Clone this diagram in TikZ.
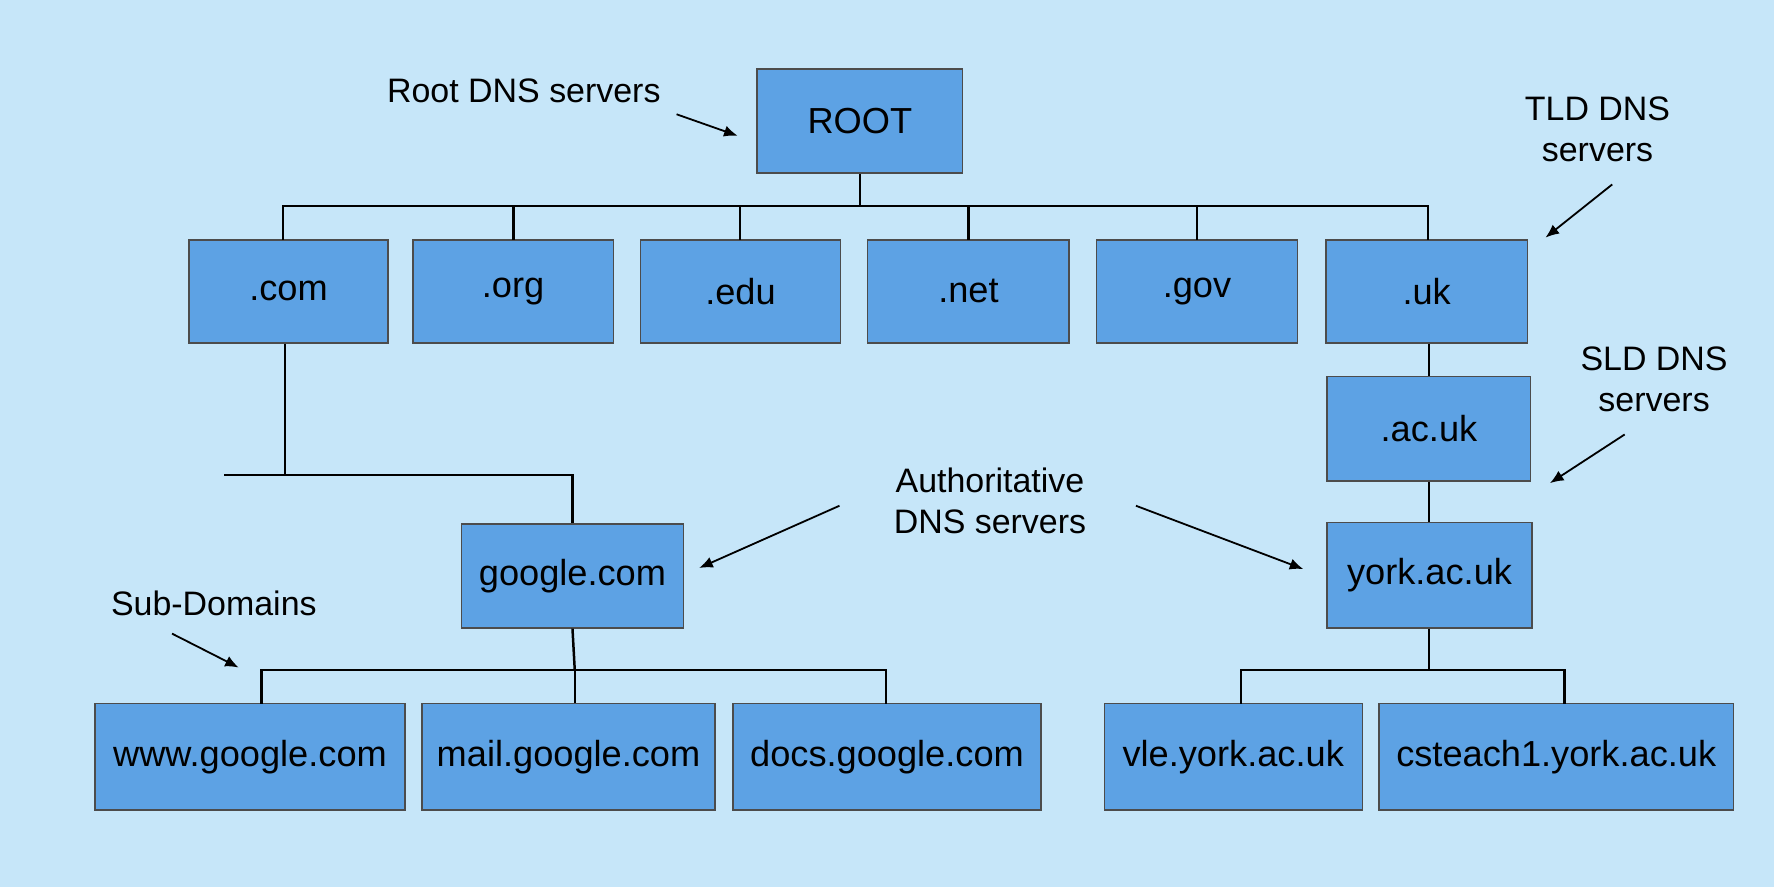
\documentclass[tikz,border=0pt]{standalone}
\usepackage{fontspec}
\setmainfont{Liberation Sans}
\begin{document}
\begin{tikzpicture}[x=0.5pt,y=-0.5pt,
  box/.style={draw=black!70,line width=0.6pt,fill=boxc,inner sep=0pt,font=\fontsize{16}{18}\selectfont},
  lbl/.style={font=\fontsize{15}{18}\selectfont,align=center},
  ln/.style={line width=1.1pt},
  ar/.style={line width=0.8pt,-{Latex[length=6pt,width=5pt]}}]
\definecolor{bgc}{HTML}{C6E6F9}
\definecolor{boxc}{HTML}{5DA2E4}
\usetikzlibrary{arrows.meta}
\fill[bgc] (0,0) rectangle (1568,784);
\useasboundingbox (0,0) rectangle (1568,784);
\newcommand{\bx}[6]{\node[box,minimum width=#4*0.5pt-#2*0.5pt,minimum height=#5*0.5pt-#3*0.5pt] (#1) at ({(#2+#4)/2},{(#3+#5)/2}) {#6};}
\bx{root}{669}{61}{851}{153}{ROOT}
\bx{com}{167}{212}{343}{303}{.com}
\bx{org}{365}{212}{542}{303}{.org}
\bx{edu}{566}{212}{743}{303}{.edu}
\bx{net}{767}{212}{945}{303}{.net}
\bx{gov}{969}{212}{1147}{303}{.gov}
\bx{uk}{1172}{212}{1350}{303}{.uk}
\bx{acuk}{1173}{333}{1353}{425}{.ac.uk}
\bx{york}{1173}{462}{1354}{555}{york.ac.uk}
\bx{google}{408}{463}{604}{555}{google.com}
\bx{www}{84}{622}{358}{716}{www.google.com}
\bx{mail}{373}{622}{632}{716}{mail.google.com}
\bx{docs}{648}{622}{920}{716}{docs.google.com}
\bx{vle}{976}{622}{1204}{716}{vle.york.ac.uk}
\bx{cst}{1219}{622}{1532}{716}{csteach1.york.ac.uk}
% TLD tree
\draw[ln] (root.south) -- (760,182);
\draw[ln] (250,212) |- (1262,182) -- (1262,212);
\foreach \x in {454,654,856,1058} \draw[ln] (\x,182) -- (\x,212);
\draw[ln] (com.south -| 252,0) -- (252,420);
\draw[ln] (198,420) -| (google.north);
\draw[ln] (uk.south -| 1263,0) -- (acuk.north -| 1263,0);
\draw[ln] (acuk.south -| 1263,0) -- (york.north -| 1263,0);
\draw[ln] (google.south) -- (508,592);
\draw[ln] (231,622) |- (783,592) -- (783,622);
\draw[ln] (508,592) -- (mail.north -| 508,0);
\draw[ln] (york.south -| 1263,0) -- (1263,592);
\draw[ln] (1097,622) |- (1383,592) -- (1383,622);
% labels
\node[lbl] (l1) at (463,80) {Root DNS servers};
\node[lbl] (l2) at (1412,114) {TLD DNS\\servers};
\node[lbl] (l3) at (1462,335) {SLD DNS\\servers};
\node[lbl] (l4) at (875,443) {Authoritative\\DNS servers};
\node[lbl] (l5) at (189,533) {Sub-Domains};
\coordinate (a1) at (598,101); \coordinate (b1) at (652,120);
\coordinate (a2) at (1425,163); \coordinate (b2) at (1366,210);
\coordinate (a3) at (1436,384); \coordinate (b3) at (1370,427);
\coordinate (a4) at (742,447); \coordinate (b4) at (618,502);
\coordinate (a5) at (1004,447); \coordinate (b5) at (1152,503);
\coordinate (a6) at (152,560); \coordinate (b6) at (211,590);
\foreach \i in {1,...,6} \draw[ar] (a\i) -- (b\i);
\end{tikzpicture}
\end{document}
